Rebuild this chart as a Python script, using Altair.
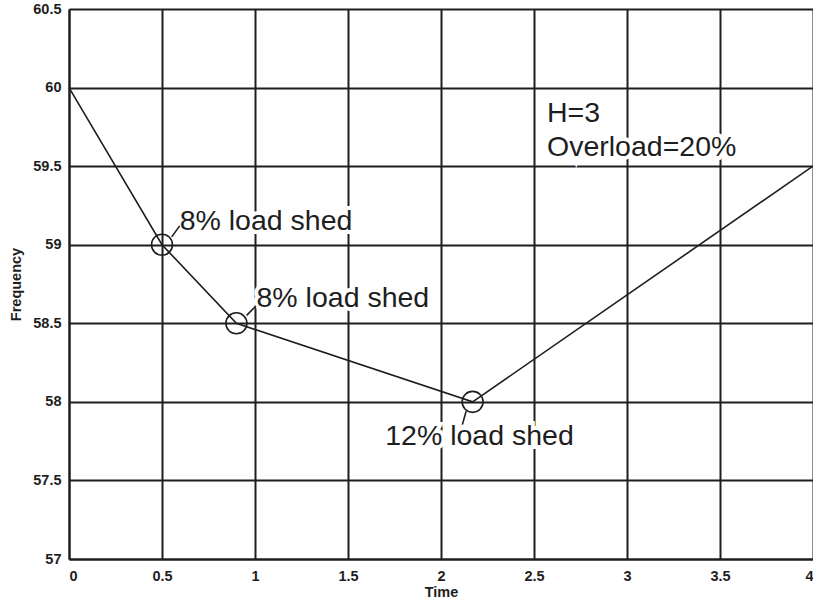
import altair as alt
import pandas as pd

# Frequency curve
time_vals = [0.0, 0.5, 0.9, 2.17, 4.0]
freq_vals = [60.0, 59.0, 58.5, 58.0, 59.5]

# Load-shed breakpoints (circled)
shed_time = [0.5, 0.9, 2.17]
shed_freq = [59.0, 58.5, 58.0]

# Annotation labels
label_text = ["8% load shed", "8% load shed", "12% load shed", "H=3", "Overload=20%"]
label_time = [0.595, 1.008, 1.70, 2.57, 2.57]
label_freq = [59.15, 58.66, 57.785, 59.84, 59.625]

# Leader lines from circles to labels
lead_t1 = [0.552, 0.955, 2.135]
lead_f1 = [59.05, 58.55, 57.94]
lead_t2 = [0.595, 1.005, 2.115]
lead_f2 = [59.12, 58.61, 57.855]

x_ticks = [0, 0.5, 1, 1.5, 2, 2.5, 3, 3.5, 4]
y_ticks = [57, 57.5, 58, 58.5, 59, 59.5, 60, 60.5]

INK = "#1e1e1e"
FONT = "Liberation Sans"

curve = pd.DataFrame({"t": time_vals, "f": freq_vals})
sheds = pd.DataFrame({"t": shed_time, "f": shed_freq})
labels = pd.DataFrame({"t": label_time, "f": label_freq, "txt": label_text})
leads = pd.DataFrame({"t": lead_t1, "f": lead_f1, "t2": lead_t2, "f2": lead_f2})

xs = alt.Scale(domain=[0, 4], nice=False, zero=False)
ys = alt.Scale(domain=[57, 60.5], nice=False, zero=False)

x_axis = alt.Axis(values=x_ticks, labelExpr="datum.value + ''", title="Time",
                  titleFontSize=14.5, titlePadding=3, labelPadding=10)
y_axis = alt.Axis(values=y_ticks, labelExpr="datum.value + ''", title="Frequency",
                  titleFontSize=14.5, titlePadding=9, labelPadding=8)

line = alt.Chart(curve).mark_line(color=INK, strokeWidth=1.6).encode(
    x=alt.X("t:Q", scale=xs, axis=x_axis),
    y=alt.Y("f:Q", scale=ys, axis=y_axis),
)

circles = alt.Chart(sheds).mark_point(shape="circle", filled=False, size=440,
                                      color=INK, strokeWidth=1.6, opacity=1).encode(
    x=alt.X("t:Q", scale=xs), y=alt.Y("f:Q", scale=ys))

leaders = alt.Chart(leads).mark_rule(color=INK, strokeWidth=1.6).encode(
    x=alt.X("t:Q", scale=xs), y=alt.Y("f:Q", scale=ys),
    x2="t2:Q", y2="f2:Q")

halo = alt.Chart(labels).mark_text(align="left", baseline="middle", font=FONT,
                                   fontSize=28.5, color="white", stroke="white",
                                   strokeWidth=8).encode(
    x=alt.X("t:Q", scale=xs), y=alt.Y("f:Q", scale=ys), text="txt:N")

text = alt.Chart(labels).mark_text(align="left", baseline="middle", font=FONT,
                                   fontSize=28.5, color=INK).encode(
    x=alt.X("t:Q", scale=xs), y=alt.Y("f:Q", scale=ys), text="txt:N")

chart = alt.layer(line, halo, text, circles, leaders).properties(
    width=744, height=550,
    background="white",
    autosize=alt.AutoSizeParams(type="none"),
    padding={"left": 69, "top": 9, "right": 0, "bottom": 46},
).configure_view(stroke=None).configure_axis(
    grid=True, gridColor=INK, gridWidth=2, gridOpacity=1,
    domainColor=INK, domainWidth=2, ticks=False,
    labelFont=FONT, labelFontWeight="bold", labelFontSize=14.5, labelColor=INK,
    titleFont=FONT, titleFontWeight="bold", titleColor=INK,
)

chart.save("out.html", embed_options={"renderer": "svg", "actions": False})
